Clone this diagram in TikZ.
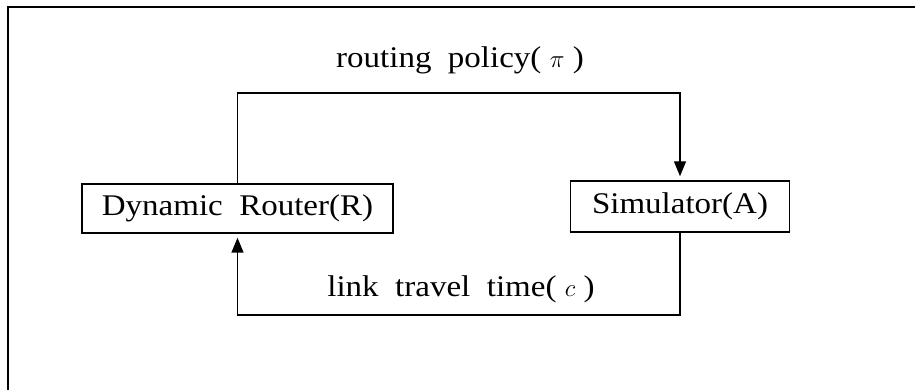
\documentclass[tikz,border=0pt]{standalone}
\usepackage{fontspec}
\setmainfont[FakeStretch=1.1]{Liberation Serif}
\usetikzlibrary{arrows.meta}
\begin{document}
\begin{tikzpicture}[x=1pt,y=1pt,
  blk/.style={draw,line width=1.4pt,inner sep=0pt,font=\fontsize{30}{33}\selectfont},
  lbl/.style={inner sep=0pt,font=\fontsize{30}{33}\selectfont},
  conn/.style={line width=1.4pt},
  arr/.style={conn,shorten >=4pt,-{Triangle[length=15pt,width=12pt]}}]
\useasboundingbox (0,0) rectangle (915,390);
\coordinate (fa) at (8,0);
\coordinate (fb) at (8,383);
\coordinate (fc) at (915,383);
\draw[line width=1.6pt] (fa) -- (fb) -- (fc);
\node[blk,minimum width=311pt,minimum height=49pt] (dr) at (237.5,181.5) {Dynamic\ \ Router(R)};
\node[blk,minimum width=219pt,minimum height=51pt] (sim) at (680,183.5) {Simulator(A)};
\coordinate (top) at (460,297);
\coordinate (bot) at (460,75);
\draw[arr] (dr.north) |- (top) -| (sim.north);
\draw[arr] (sim.south) |- (bot) -| (dr.south);
\node[lbl] (rp) at (460,330) {routing\ \ policy(\;$\pi$\;)};
\node[lbl] (lt) at (461,101) {link\ \ travel\ \ time(\;$c$\;)};
\end{tikzpicture}
\end{document}
